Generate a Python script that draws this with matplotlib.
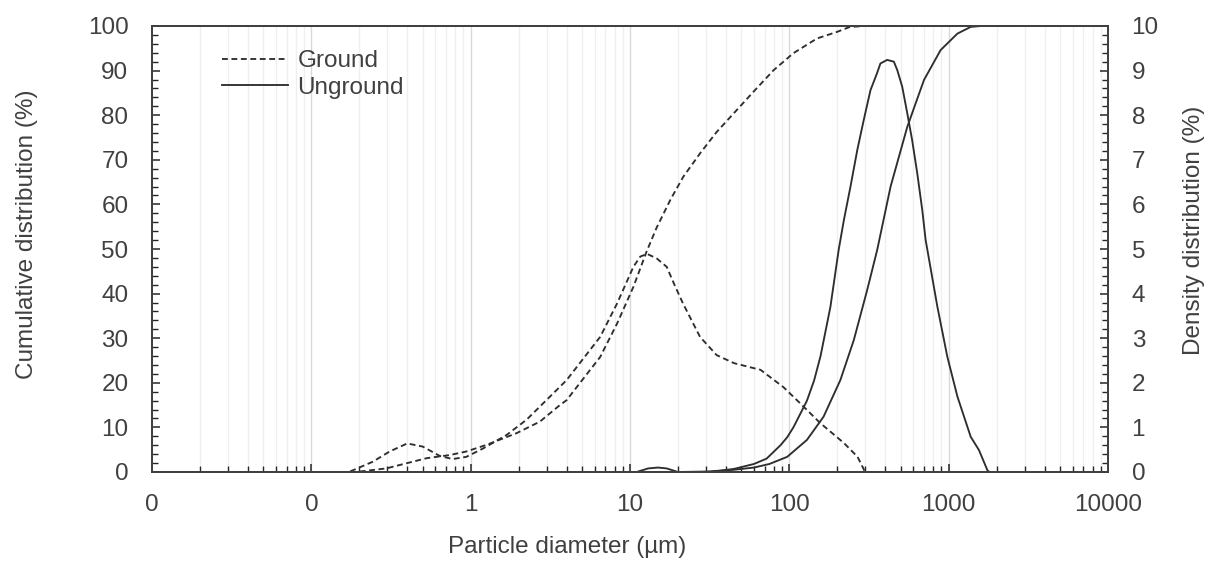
import matplotlib
matplotlib.use("Agg")
import matplotlib.pyplot as plt
from matplotlib.ticker import FixedLocator, FixedFormatter, MultipleLocator, NullFormatter

plt.rcParams['font.family'] = ['Liberation Sans', 'DejaVu Sans']
plt.rcParams['lines.scale_dashes'] = False

# ---- data ----
ground_cum_x = [0.01, 0.19, 0.295, 0.39, 0.53, 0.74, 0.94, 1.26, 1.94, 2.72, 3.63, 4.0, 6.5, 8.3,
                10.5, 12.7, 14.7, 17.9, 21.6, 27.6, 35.1, 46.9, 59.7, 79.7, 106, 149, 200, 240, 300, 2700]
ground_cum_y = [0, 0, 0.8, 1.9, 3.1, 3.8, 4.6, 6.1, 8.7, 11.3, 15, 16.1, 25.8, 33.3,
                41.5, 49.4, 54.8, 61, 66.2, 71.5, 76.3, 81.2, 85.3, 90.1, 93.9, 97.2, 98.7, 99.8, 100, 100]

ground_den_x = [0.01, 0.17, 0.18, 0.243, 0.31, 0.40, 0.50, 0.64, 0.77, 0.94, 1.2, 1.68, 2.24, 3.63,
                4.0, 6.5, 8.3, 10.5, 11.6, 12.8, 14.7, 17, 19, 21.5, 27.5, 35, 45, 66, 92, 117, 156,
                220, 268, 295, 300, 2700]
ground_den_y = [0, 0, 0.03, 0.23, 0.46, 0.64, 0.57, 0.36, 0.29, 0.34, 0.53, 0.83, 1.17, 1.91,
                2.06, 3.03, 3.78, 4.6, 4.83, 4.89, 4.79, 4.6, 4.2, 3.78, 3.03, 2.62, 2.44, 2.29, 1.9, 1.54, 1.1,
                0.65, 0.34, 0.04, 0, 0]

unground_cum_x = [0.01, 20, 30, 45, 60, 75, 97, 129, 164, 209, 254, 308, 356, 432, 550, 700, 890,
                  1135, 1375, 1600, 2700]
unground_cum_y = [0, 0, 0.1, 0.5, 1.0, 1.8, 3.4, 7.2, 12.4, 20.6, 29.6, 40.8, 49.8, 64, 77.4, 87.9,
                  94.6, 98.3, 99.8, 100, 100]

unground_den_x = [0.01, 11, 13, 15, 17, 20, 32, 45, 60, 72, 88, 97, 106, 117, 129, 143, 157, 181, 204,
                  220, 242, 267, 293, 323, 355, 373, 411, 453, 476, 511, 550, 590, 635, 683, 717, 849,
                  980, 1135, 1375, 1550, 1750, 1800, 2700]
unground_den_y = [0, 0, 0.08, 0.1, 0.08, 0, 0, 0.07, 0.18, 0.3, 0.6, 0.78, 1.0, 1.3, 1.6, 2.05, 2.6, 3.7,
                  4.98, 5.65, 6.4, 7.22, 7.89, 8.56, 8.94, 9.16, 9.24, 9.2, 9.01, 8.64, 8.04, 7.44, 6.7, 5.87,
                  5.2, 3.71, 2.59, 1.69, 0.79, 0.49, 0.04, 0, 0]

x_ticks = [0.01, 0.1, 1, 10, 100, 1000, 10000]
x_tick_labels = ['0', '0', '1', '10', '100', '1000', '10000']
left_ticks = list(range(0, 101, 10))
right_ticks = list(range(0, 11, 1))

# ---- figure ----
W, H = 1215, 565
fig = plt.figure(figsize=(W / 100, H / 100), dpi=100)
L, R, T, B = 152, 1108, 26, 472
ax = fig.add_axes([L / W, 1 - B / H, (R - L) / W, (B - T) / H])
ax2 = ax.twinx()

txt = '#404040'
line_c = '#2e2e2e'
fs = 17.5
dash = (0, (4.2, 2.6))
lw = 1.35

ax.set_xscale('log')
ax.set_xlim(0.01, 10000)
ax.set_ylim(0, 100)
ax2.set_ylim(0, 10)

# grid lines
minor_locs = [m * 10.0 ** e for e in range(-2, 4) for m in range(2, 10)]
for xv in minor_locs:
    ax.axvline(xv, color='#efefef', lw=0.9, zorder=0)
for xv in x_ticks[1:-1]:
    ax.axvline(xv, color='#d9d9d9', lw=1.0, zorder=0)

l1, = ax.plot(ground_cum_x, ground_cum_y, color=line_c, lw=lw, linestyle=dash, label='Ground')
l2, = ax.plot(unground_cum_x, unground_cum_y, color=line_c, lw=lw, linestyle='-', label='Unground')
ax2.plot(ground_den_x, ground_den_y, color=line_c, lw=lw, linestyle=dash)
ax2.plot(unground_den_x, unground_den_y, color=line_c, lw=lw, linestyle='-')

# ticks
ax.xaxis.set_major_locator(FixedLocator(x_ticks))
ax.xaxis.set_major_formatter(FixedFormatter(x_tick_labels))
ax.xaxis.set_minor_locator(FixedLocator(minor_locs))
ax.xaxis.set_minor_formatter(NullFormatter())
ax.yaxis.set_major_locator(FixedLocator(left_ticks))
ax.yaxis.set_minor_locator(MultipleLocator(2))
ax2.yaxis.set_major_locator(FixedLocator(right_ticks))
ax2.yaxis.set_minor_locator(MultipleLocator(0.2))

ax.tick_params(axis='x', which='major', direction='in', length=6, width=1.1, color='#262626',
               labelsize=fs, labelcolor=txt, pad=16)
ax.tick_params(axis='x', which='minor', direction='in', length=4, width=1.0, color='#262626')
ax.tick_params(axis='y', which='major', direction='in', length=6, width=1.1, color='#262626',
               labelsize=fs, labelcolor=txt, pad=17)
ax.tick_params(axis='y', which='minor', direction='in', length=4, width=1.0, color='#262626')
ax2.tick_params(axis='y', which='major', direction='in', length=6, width=1.1, color='#262626',
                labelsize=fs, labelcolor=txt, pad=17)
ax2.tick_params(axis='y', which='minor', direction='in', length=4, width=1.0, color='#262626')
ax.tick_params(top=False)

for a in (ax, ax2):
    for s in a.spines.values():
        s.set_color('#404040')
        s.set_linewidth(1.4)

# axis labels
fig.text(567 / W, 1 - 547 / H, 'Particle diameter (µm)', ha='center', va='center', fontsize=fs, color=txt)
fig.text(27 / W, 1 - 234 / H, 'Cumulative distribution (%)', ha='center', va='center', rotation=90,
         fontsize=fs, color=txt)
fig.text(1194 / W, 1 - 230 / H, 'Density distribution (%)', ha='center', va='center', rotation=90,
         fontsize=fs, color=txt)

leg = ax2.legend(handles=[l1, l2], loc='upper left', bbox_to_anchor=((222 - L) / (R - L), (B - 50) / (B - T)),
                 frameon=False, fontsize=fs, handlelength=2.7, handletextpad=0.4, borderpad=0,
                 borderaxespad=0, labelspacing=0.2)
for t in leg.get_texts():
    t.set_color(txt)

fig.savefig('out.png', dpi=100)
